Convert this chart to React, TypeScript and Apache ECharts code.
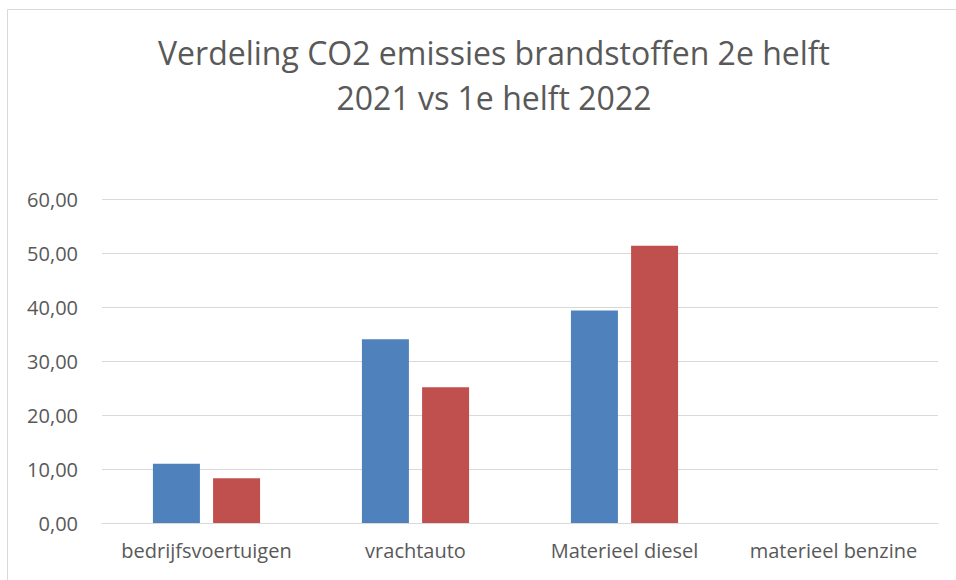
import React, { useEffect, useRef } from "react";
import * as echarts from "echarts";

const categories = ["bedrijfsvoertuigen", "vrachtauto", "Materieel diesel", "materieel benzine"];
const series2021 = [11.0, 34.1, 39.4, 0];
const series2022 = [8.3, 25.2, 51.4, 0];
const seriesNames = ["2e helft 2021", "1e helft 2022"];
const titleLines = ["Verdeling CO2 emissies brandstoffen 2e helft", "2021 vs 1e helft 2022"];

const FONT = "'Open Sans', 'Noto Sans', sans-serif";

export default function App() {
  const ref = useRef<HTMLDivElement>(null);
  useEffect(() => {
    const chart = echarts.init(ref.current!, null, { renderer: "svg" });
    chart.setOption({
      animation: false,
      backgroundColor: "#ffffff",
      title: {
        text: titleLines.join("\n"),
        left: 489,
        top: 25,
        textAlign: "center",
        textStyle: { fontFamily: FONT, fontSize: 32, fontWeight: "normal", color: "#595959", lineHeight: 45 },
      },
      graphic: [
        {
          type: "rect",
          shape: { x: 7.5, y: 9.5, width: 1000, height: 1000 },
          style: { fill: "none", stroke: "#d9d9d9", lineWidth: 1 },
          silent: true,
        },
      ],
      grid: { left: 102, right: 18, top: 199.5, bottom: 57, containLabel: false },
      xAxis: {
        type: "category",
        data: categories,
        axisLine: { lineStyle: { color: "#d9d9d9", width: 1 } },
        axisTick: { show: false },
        axisLabel: { fontFamily: FONT, fontSize: 20, color: "#595959", margin: 17, interval: 0, hideOverlap: false },
      },
      yAxis: {
        type: "value",
        min: 0,
        max: 60,
        interval: 10,
        axisLine: { show: false },
        axisTick: { show: false },
        splitLine: { lineStyle: { color: "#d9d9d9", width: 1 } },
        axisLabel: {
          fontFamily: FONT,
          fontSize: 20,
          color: "#595959",
          margin: 24,
          formatter: (v: number) => v.toFixed(2).replace(".", ","),
        },
      },
      series: [
        {
          name: seriesNames[0],
          type: "bar",
          data: series2021,
          barWidth: 47,
          barGap: "28%",
          itemStyle: { color: "#4f81bd" },
        },
        {
          name: seriesNames[1],
          type: "bar",
          data: series2022,
          barWidth: 47,
          barGap: "28%",
          itemStyle: { color: "#c0504d" },
        },
      ],
    });
    return () => chart.dispose();
  }, []);
  return (
    <div
      ref={ref}
      style={{ position: "fixed", left: 0, top: 0, width: 956, height: 580 }}
    />
  );
}
